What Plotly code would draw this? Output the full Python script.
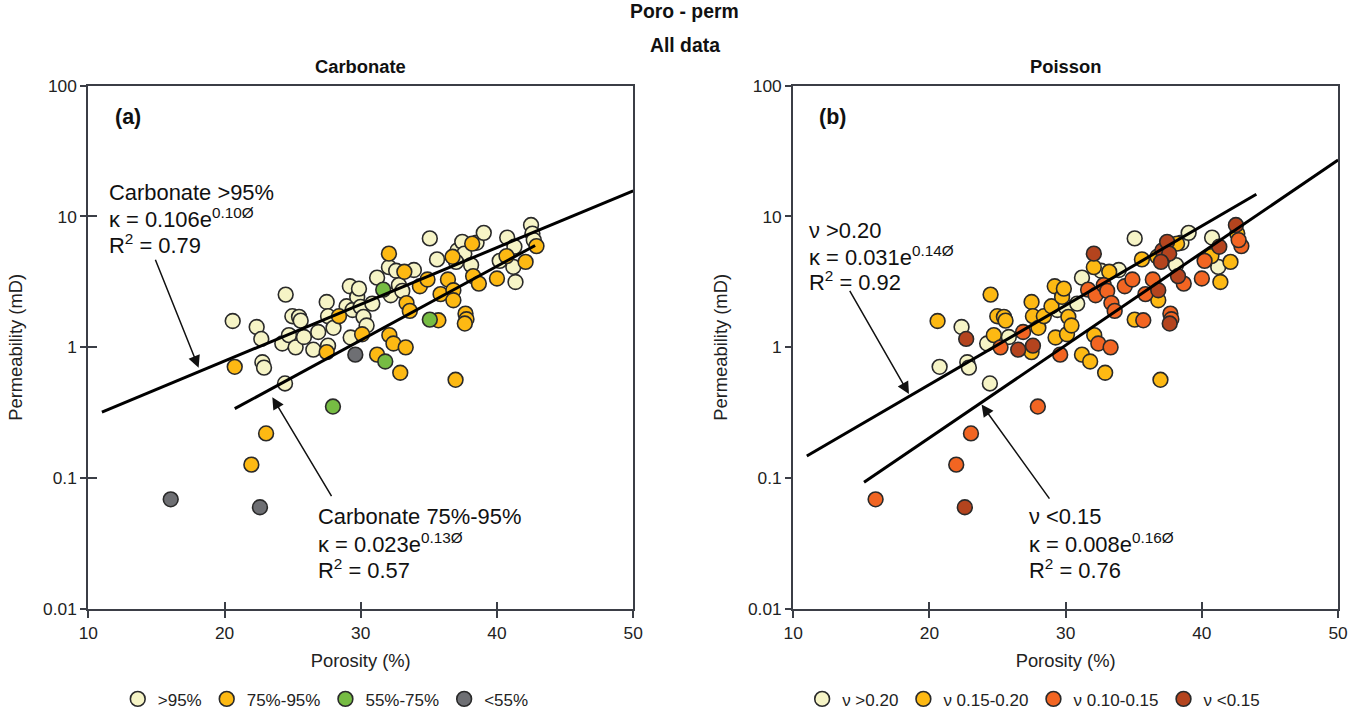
import numpy as np
import plotly.graph_objects as go

# ---------------- data ----------------
porosity = [20.6, 20.75, 22.36, 22.7, 22.78, 22.9, 24.44, 24.49, 24.24, 24.73,
            24.98, 25.47, 25.59, 25.22, 25.83, 26.52, 26.88, 27.5, 27.5, 27.6,
            27.6, 28.0, 28.4, 28.96, 29.2, 29.4, 29.26, 29.6, 29.74, 29.87,
            29.99, 30.1, 30.2, 30.43, 30.85, 31.2, 31.2, 31.65, 31.8, 32.07,
            32.07, 32.2, 32.1, 32.4, 32.6, 32.8, 32.9, 33.05, 33.2, 33.3,
            33.36, 33.6, 33.9, 34.34, 34.9, 35.07, 35.07, 35.7, 35.6, 35.86,
            36.4, 36.74, 36.8, 36.8, 36.96, 37.1, 37.45, 37.6, 37.69, 37.76,
            37.64, 38.1, 38.18, 38.25, 38.5, 38.67, 39.03, 40.0, 40.2, 40.7,
            40.75, 41.2, 41.28, 41.36, 42.1, 42.5, 42.6, 42.9, 42.7, 16.05,
            22.6, 21.97, 23.05, 27.96, 37.0]
permeability = [1.59, 0.71, 1.43, 1.16, 0.77, 0.70, 0.53, 2.53, 1.07, 1.24,
                1.73, 1.71, 1.60, 1.00, 1.20, 0.96, 1.31, 2.22, 0.92, 1.03,
                1.73, 1.41, 1.73, 2.06, 2.93, 1.93, 1.19, 0.88, 2.43, 2.81,
                2.04, 1.26, 1.71, 1.47, 2.16, 3.41, 0.88, 2.76, 0.78, 5.2,
                4.1, 2.5, 1.24, 1.07, 3.85, 2.99, 0.64, 2.7, 3.78, 1.0,
                2.18, 1.9, 3.9, 2.93, 3.3, 6.8, 1.63, 1.61, 4.7, 2.55,
                3.3, 4.92, 2.73, 2.29, 0.565, 5.5, 6.4, 5.2, 1.81, 1.64,
                1.52, 4.25, 6.2, 3.5, 6.3, 3.07, 7.5, 3.36, 4.58, 4.98,
                6.9, 4.12, 5.87, 3.16, 4.5, 8.6, 7.4, 5.94, 6.6, 0.069,
                0.060, 0.127, 0.22, 0.353, 4.5]
# carbonate class: 0 >95%, 1 75-95%, 2 55-75%, 3 <55%
carbonate_class = [0, 1, 0, 0, 0, 0, 0, 0, 0, 0,
                   0, 0, 0, 0, 0, 0, 0, 0, 1, 0,
                   0, 0, 1, 0, 0, 0, 0, 3, 0, 0,
                   0, 1, 0, 0, 0, 0, 1, 2, 2, 1,
                   0, 0, 1, 1, 0, 0, 1, 0, 1, 1,
                   1, 1, 0, 1, 1, 0, 2, 1, 0, 1,
                   1, 1, 1, 1, 1, 0, 0, 0, 1, 1,
                   1, 0, 1, 1, 0, 1, 0, 1, 0, 1,
                   0, 0, 0, 0, 1, 0, 0, 1, 0, 3,
                   3, 1, 1, 2, 0]
# poisson class: 0 >0.20, 1 0.15-0.20, 2 0.10-0.15, 3 <0.15
poisson_class = [1, 0, 0, 3, 0, 0, 0, 1, 0, 1,
                 1, 1, 1, 2, 0, 3, 2, 1, 1, 3,
                 1, 1, 1, 1, 1, 0, 1, 2, 1, 1,
                 0, 1, 1, 1, 0, 0, 1, 2, 1, 3,
                 1, 2, 1, 2, 0, 2, 1, 2, 1, 2,
                 2, 2, 0, 2, 2, 0, 1, 2, 1, 2,
                 2, 1, 3, 1, 1, 3, 3, 3, 2, 2,
                 3, 0, 1, 3, 0, 2, 0, 2, 2, 1,
                 0, 0, 3, 1, 1, 3, 1, 2, 2, 2,
                 3, 2, 2, 2, 3]

carbonate_labels = [">95%", "75%-95%", "55%-75%", "<55%"]
carbonate_colors = ["#F6F4C6", "#FDB913", "#76BC43", "#6E6F73"]
poisson_labels = ["\u03bd >0.20", "\u03bd 0.15-0.20", "\u03bd 0.10-0.15", "\u03bd <0.15"]
poisson_colors = ["#F6F4C6", "#FDB913", "#F26522", "#B4441E"]

# regression line end points (porosity, permeability)
fit_a_high_x = [11.0, 50.0]
fit_a_high_y = [0.32, 15.7]
fit_a_mid_x = [20.75, 42.8]
fit_a_mid_y = [0.34, 6.0]
fit_b_high_x = [11.0, 44.0]
fit_b_high_y = [0.148, 14.8]
fit_b_low_x = [15.2, 50.0]
fit_b_low_y = [0.093, 27.0]

# arrows: (tail porosity, tail perm, head porosity, head perm)
arrow_a1 = [14.88, 4.8, 18.1, 0.70]
arrow_a2 = [27.92, 0.071, 23.51, 0.416]
arrow_b1 = [14.09, 2.77, 18.5, 0.44]
arrow_b2 = [28.89, 0.068, 23.83, 0.366]

FONT = "Liberation Sans, Arial, sans-serif"
AXCOL = "#3b3e46"

# the page photo is offset and slightly scaled; compensate layout positions
SX, OX = 0.9872, 7.7
SY, OY = 0.9751, 8.35
W, H = 1375, 722
FS = 1.0 / 0.981  # font/marker compensation


def px(x):
    x = (x - 1.6) / 0.9984
    return (x / SX - OX) / W


def py(y):
    y = (y - 2.5) / 0.9943
    return 1 - (y / SY - OY) / H


def fs(s):
    return round(s * FS, 2)


fig = go.Figure()

por = np.array(porosity)
prm = np.array(permeability)
cc = np.array(carbonate_class)
pc = np.array(poisson_class)

for k in range(4):
    m = cc == k
    fig.add_trace(go.Scatter(
        x=por[m], y=prm[m], mode="markers", name=carbonate_labels[k],
        marker=dict(size=fs(14.5), color=carbonate_colors[k],
                    line=dict(color="#2a2a2a", width=1.6)),
        xaxis="x", yaxis="y", legend="legend"))
for k in range(4):
    m = pc == k
    fig.add_trace(go.Scatter(
        x=por[m], y=prm[m], mode="markers", name=poisson_labels[k],
        marker=dict(size=fs(14.5), color=poisson_colors[k],
                    line=dict(color="#2a2a2a", width=1.6)),
        xaxis="x2", yaxis="y2", legend="legend2"))

for xs, ys, xa, ya in [(fit_a_high_x, fit_a_high_y, "x", "y"),
                       (fit_a_mid_x, fit_a_mid_y, "x", "y"),
                       (fit_b_high_x, fit_b_high_y, "x2", "y2"),
                       (fit_b_low_x, fit_b_low_y, "x2", "y2")]:
    fig.add_trace(go.Scatter(x=xs, y=ys, mode="lines",
                             line=dict(color="black", width=3),
                             showlegend=False, xaxis=xa, yaxis=ya,
                             hoverinfo="skip"))

# dummy traces for overlay axes (inner half of crossing ticks)
for xa, ya in [("x3", "y"), ("x", "y3"), ("x4", "y2"), ("x2", "y4")]:
    fig.add_trace(go.Scatter(x=[None], y=[None], mode="markers",
                             showlegend=False, xaxis=xa, yaxis=ya,
                             hoverinfo="skip"))

xdomA = [px(87.5), px(632.5)]
xdomB = [px(792.5), px(1337.5)]
ydom = [py(608), py(86)]

tickvals_y = [0.01, 0.1, 1, 10, 100]
ticktext_y = ["0.01", "0.1", "1", "10", "100"]
tickvals_x = [10, 20, 30, 40, 50]


def xax(dom, anchor):
    return dict(domain=dom, range=[10, 50], anchor=anchor, tickvals=tickvals_x,
                ticks="outside", ticklen=7, tickwidth=1.6, tickcolor=AXCOL,
                showline=True, linecolor=AXCOL, linewidth=2, mirror=True,
                showgrid=False, zeroline=False,
                tickfont=dict(family=FONT, size=fs(17), color="#222"),
                title=dict(text="Porosity (%)", standoff=12,
                           font=dict(family=FONT, size=fs(18), color="#222")))


def yax(anchor):
    return dict(domain=ydom, type="log", range=[-2, 2], anchor=anchor,
                tickvals=tickvals_y, ticktext=ticktext_y,
                ticks="outside", ticklen=6, tickwidth=1.6, tickcolor=AXCOL,
                showline=True, linecolor=AXCOL, linewidth=2, mirror=True,
                showgrid=False, zeroline=False,
                tickfont=dict(family=FONT, size=fs(17), color="#222"),
                title=dict(text="Permeability (mD)", standoff=16,
                           font=dict(family=FONT, size=fs(18), color="#222")))


def xover(base):
    return dict(overlaying=base, range=[10, 50], tickvals=tickvals_x,
                ticks="inside", ticklen=7, tickwidth=1.6, tickcolor=AXCOL,
                showticklabels=False, showgrid=False, zeroline=False,
                showline=False, side="bottom")


def yover(base):
    return dict(overlaying=base, type="log", range=[-2, 2], tickvals=tickvals_y,
                ticks="inside", ticklen=9, tickwidth=1.6, tickcolor=AXCOL,
                showticklabels=False, showgrid=False, zeroline=False,
                showline=False, side="left")


annots = []


def txt(x, y, s, size=21, bold=False, xanchor="left", yanchor="middle"):
    if bold:
        s = "<b>" + s + "</b>"
    annots.append(dict(x=px(x), y=py(y), xref="paper", yref="paper",
                       text=s, showarrow=False, xanchor=xanchor, yanchor=yanchor,
                       font=dict(family=FONT, size=fs(size), color="#111")))


# titles
txt(684, 12, "Poro - perm", size=19, bold=True, xanchor="center")
txt(684, 45, "All data", size=19, bold=True, xanchor="center")
txt(360, 67, "Carbonate", size=18, bold=True, xanchor="center")
txt(1065, 67, "Poisson", size=18, bold=True, xanchor="center")
txt(127, 117, "(a)", size=21, bold=True, xanchor="center")
txt(832, 117, "(b)", size=21, bold=True, xanchor="center")

# regression labels
txt(106, 193, "Carbonate >95%", size=21.5)
txt(106, 218, "\u03ba = 0.106e<sup>0.10\u00d8</sup>", size=21.5)
txt(106, 244, "R<sup>2</sup> = 0.79", size=21.5)
txt(315, 516, "Carbonate 75%-95%", size=21.5)
txt(315, 542, "\u03ba = 0.023e<sup>0.13\u00d8</sup>", size=21.5)
txt(315, 568, "R<sup>2</sup> = 0.57", size=21.5)
txt(806, 230, "\u03bd >0.20", size=21.5)
txt(806, 256, "\u03ba = 0.031e<sup>0.14\u00d8</sup>", size=21.5)
txt(806, 281, "R<sup>2</sup> = 0.92", size=21.5)
txt(1026, 516, "\u03bd <0.15", size=21.5)
txt(1026, 542, "\u03ba = 0.008e<sup>0.16\u00d8</sup>", size=21.5)
txt(1026, 568, "R<sup>2</sup> = 0.76", size=21.5)

for arr, xa, ya in [(arrow_a1, "x", "y"), (arrow_a2, "x", "y"),
                    (arrow_b1, "x2", "y2"), (arrow_b2, "x2", "y2")]:
    annots.append(dict(x=arr[2], y=np.log10(arr[3]), ax=arr[0], ay=np.log10(arr[1]),
                       xref=xa, yref=ya, axref=xa, ayref=ya, text="",
                       showarrow=True, arrowhead=2, arrowsize=1.6,
                       arrowwidth=1.5, arrowcolor="#111", standoff=0))

legfont = dict(family=FONT, size=17, color="#222")
fig.update_layout(
    width=W, height=H, margin=dict(l=0, r=0, t=0, b=0),
    paper_bgcolor="white", plot_bgcolor="white",
    xaxis=xax(xdomA, "y"), yaxis=yax("x"),
    xaxis2=xax(xdomB, "y2"), yaxis2=yax("x2"),
    xaxis3=xover("x"), yaxis3=yover("y"),
    xaxis4=xover("x2"), yaxis4=yover("y2"),
    annotations=annots,
    legend=dict(orientation="h", x=px(325), y=py(698), xanchor="center",
                yanchor="middle", font=legfont, itemwidth=30,
                bgcolor="rgba(0,0,0,0)", tracegroupgap=0),
    legend2=dict(orientation="h", x=px(1033), y=py(698), xanchor="center",
                 yanchor="middle", font=legfont, itemwidth=30,
                 bgcolor="rgba(0,0,0,0)", tracegroupgap=0),
    showlegend=True,
)

fig.write_html("out.html")
